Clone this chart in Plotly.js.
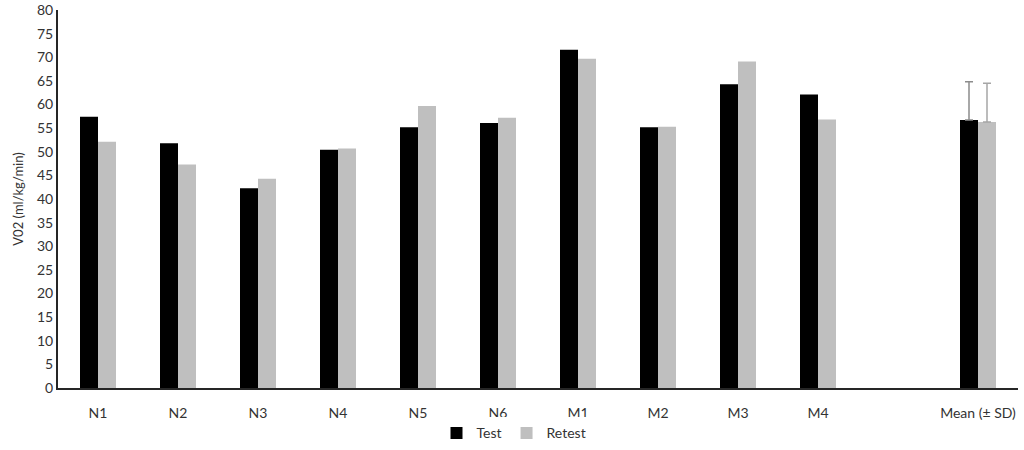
<!DOCTYPE html>
<html>
<head>
<meta charset="utf-8">
<script src="https://cdn.plot.ly/plotly-3.0.1.min.js"></script>
<style>
  html, body { margin: 0; padding: 0; background: #fff; }
  #chart { width: 1024px; height: 450px; }
</style>
</head>
<body>
<div id="chart"></div>
<script>
// subjects, an empty slot, then the mean
var subjects = ["N1", "N2", "N3", "N4", "N5", "N6", "M1", "M2", "M3", "M4"]
var gapLabel = " "
var meanLabel = "Mean (± SD)"
var testValues = [57.4, 51.8, 42.3, 50.4, 55.2, 56.1, 71.6, 55.2, 64.3, 62.1]
var retestValues = [52.1, 47.3, 44.3, 50.7, 59.7, 57.2, 69.7, 55.3, 69.1, 56.8]
var testMean = 56.7
var retestMean = 56.3
var testSD = 8.1
var retestSD = 8.2

var categories = subjects.concat([gapLabel, meanLabel])
var fontFamily = "Lato, Open Sans, sans-serif"
var tickFont = { family: fontFamily, size: 14, color: "#333333" }

window.onload = function () {
    var data = [
        {
            type: "bar", name: "Test", x: subjects, y: testValues,
            offsetgroup: "test", marker: { color: "#000000" }
        },
        {
            type: "bar", name: "Retest", x: subjects, y: retestValues,
            offsetgroup: "retest", marker: { color: "#bfbfbf" }
        },
        {
            type: "bar", name: "Test", x: [meanLabel], y: [testMean],
            offsetgroup: "test", showlegend: false, marker: { color: "#000000" },
            error_y: { type: "data", array: [testSD], arrayminus: [0], symmetric: false,
                color: "#8c8c8c", thickness: 1.5, width: 4 }
        },
        {
            type: "bar", name: "Retest", x: [meanLabel], y: [retestMean],
            offsetgroup: "retest", showlegend: false, marker: { color: "#bfbfbf" },
            error_y: { type: "data", array: [retestSD], arrayminus: [0], symmetric: false,
                color: "#a6a6a6", thickness: 1.5, width: 4 }
        }
    ]

    var layout = {
        width: 1024,
        height: 450,
        margin: { l: 58, r: 6, t: 10, b: 62, autoexpand: false },
        paper_bgcolor: "#fff",
        plot_bgcolor: "#fff",
        barmode: "group",
        bargap: 0.55,
        bargroupgap: 0,
        font: tickFont,
        xaxis: {
            type: "category",
            categoryorder: "array",
            categoryarray: categories,
            range: [-0.5, categories.length - 0.5],
            showline: true,
            linecolor: "#262626",
            linewidth: 2,
            showgrid: false,
            ticks: "",
            ticklabelstandoff: 11,
            tickfont: tickFont
        },
        yaxis: {
            range: [0, 80],
            dtick: 5,
            showline: true,
            linecolor: "#262626",
            linewidth: 2,
            showgrid: false,
            zeroline: false,
            ticks: "",
            tickfont: tickFont,
            title: { text: "V02 (ml/kg/min)", font: { family: fontFamily, size: 13, color: "#333333" }, standoff: 10 }
        },
        showlegend: true,
        legend: {
            orientation: "h",
            x: 0.475,
            xanchor: "center",
            y: -0.12,
            yanchor: "middle",
            font: tickFont,
            itemwidth: 30,
            tracegroupgap: 0
        }
    }

    Plotly.newPlot("chart", data, layout, { displayModeBar: false, staticPlot: true })
}
</script>
</body>
</html>
